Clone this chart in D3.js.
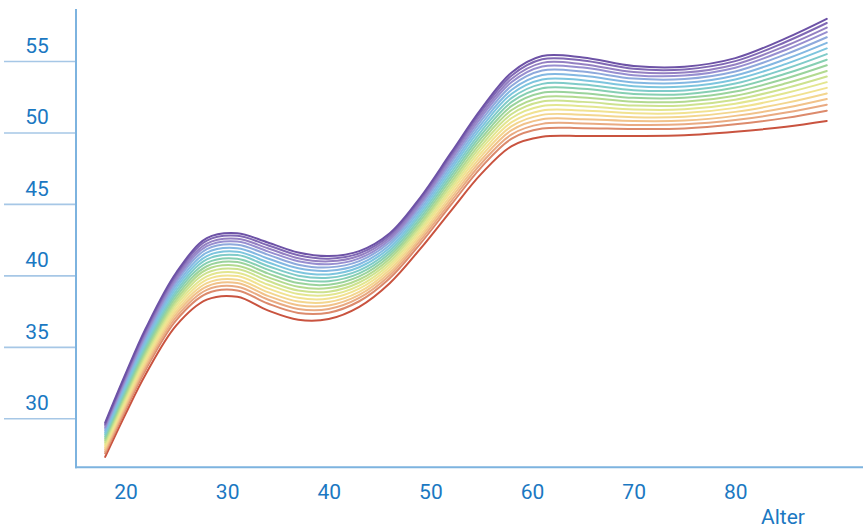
<!DOCTYPE html>
<html>
<head>
<meta charset="utf-8">
<script src="https://cdn.jsdelivr.net/npm/d3@7"></script>
<style>
  html, body { margin: 0; padding: 0; background: #ffffff; }
  svg { display: block; }
  text { font-family: Roboto, "Noto Sans", sans-serif; }
</style>
</head>
<body>
<svg id="chart" width="863" height="530"></svg>
<script>
// Ages at which the curves were read
const ages = [18, 20, 22, 25, 28, 31, 34, 37, 40, 43, 46, 49, 52, 55, 58, 61, 65, 70, 75, 80, 85, 89];

// Values of all 19 curves (bottom red curve first, top purple curve last) at each age
const at18 = [27.30, 27.54, 27.68, 27.82, 27.95, 28.08, 28.21, 28.34, 28.48, 28.61, 28.74, 28.87, 29.00, 29.14, 29.27, 29.39, 29.50, 29.60, 29.70];
const at20 = [30.30, 30.58, 30.75, 30.90, 31.06, 31.21, 31.36, 31.52, 31.67, 31.83, 31.98, 32.13, 32.29, 32.44, 32.60, 32.74, 32.86, 32.99, 33.10];
const at22 = [33.10, 33.42, 33.61, 33.79, 33.96, 34.14, 34.32, 34.49, 34.67, 34.84, 35.02, 35.20, 35.37, 35.55, 35.72, 35.88, 36.03, 36.17, 36.30];
const at25 = [36.50, 36.87, 37.09, 37.30, 37.50, 37.70, 37.91, 38.11, 38.31, 38.52, 38.72, 38.92, 39.13, 39.33, 39.53, 39.72, 39.89, 40.05, 40.20];
const at28 = [38.30, 38.73, 38.99, 39.22, 39.46, 39.70, 39.93, 40.17, 40.41, 40.64, 40.88, 41.12, 41.35, 41.59, 41.83, 42.04, 42.23, 42.43, 42.60];
const at31 = [38.50, 38.95, 39.21, 39.46, 39.70, 39.95, 40.19, 40.44, 40.68, 40.93, 41.17, 41.42, 41.66, 41.90, 42.15, 42.37, 42.57, 42.77, 42.95];
const at34 = [37.55, 38.03, 38.31, 38.57, 38.83, 39.09, 39.36, 39.62, 39.88, 40.14, 40.40, 40.66, 40.92, 41.18, 41.45, 41.68, 41.90, 42.11, 42.30];
const at37 = [36.90, 37.37, 37.65, 37.91, 38.17, 38.43, 38.69, 38.94, 39.20, 39.46, 39.72, 39.98, 40.24, 40.50, 40.75, 40.99, 41.20, 41.41, 41.60];
const at40 = [36.95, 37.39, 37.65, 37.90, 38.14, 38.38, 38.62, 38.86, 39.11, 39.35, 39.59, 39.83, 40.07, 40.32, 40.56, 40.78, 40.98, 41.17, 41.35];
const at43 = [37.80, 38.19, 38.42, 38.64, 38.85, 39.07, 39.28, 39.50, 39.71, 39.93, 40.14, 40.35, 40.57, 40.78, 41.00, 41.19, 41.37, 41.54, 41.70];
const at46 = [39.45, 39.80, 40.01, 40.20, 40.40, 40.59, 40.78, 40.97, 41.17, 41.36, 41.55, 41.74, 41.94, 42.13, 42.32, 42.50, 42.65, 42.81, 42.95];
const at49 = [41.85, 42.21, 42.43, 42.62, 42.82, 43.02, 43.22, 43.42, 43.61, 43.81, 44.01, 44.21, 44.41, 44.60, 44.80, 44.98, 45.14, 45.31, 45.45];
const at52 = [44.50, 44.91, 45.15, 45.37, 45.59, 45.82, 46.04, 46.26, 46.48, 46.71, 46.93, 47.15, 47.38, 47.60, 47.82, 48.02, 48.21, 48.39, 48.55];
const at55 = [47.10, 47.56, 47.83, 48.08, 48.33, 48.58, 48.83, 49.08, 49.33, 49.58, 49.83, 50.08, 50.33, 50.58, 50.83, 51.06, 51.26, 51.47, 51.65];
const at58 = [49.05, 49.57, 49.87, 50.16, 50.44, 50.72, 51.01, 51.29, 51.57, 51.86, 52.14, 52.42, 52.71, 52.99, 53.27, 53.53, 53.76, 53.99, 54.20];
const at61 = [49.70, 50.27, 50.60, 50.92, 51.23, 51.54, 51.85, 52.16, 52.47, 52.78, 53.09, 53.40, 53.71, 54.02, 54.33, 54.62, 54.87, 55.12, 55.35];
const at65 = [49.75, 50.30, 50.63, 50.93, 51.24, 51.54, 51.84, 52.14, 52.45, 52.75, 53.05, 53.35, 53.66, 53.96, 54.26, 54.54, 54.78, 55.03, 55.25];
const at70 = [49.75, 50.24, 50.53, 50.80, 51.07, 51.34, 51.61, 51.88, 52.15, 52.42, 52.69, 52.96, 53.23, 53.50, 53.77, 54.01, 54.23, 54.45, 54.65];
const at75 = [49.80, 50.28, 50.57, 50.83, 51.10, 51.36, 51.62, 51.89, 52.15, 52.42, 52.68, 52.94, 53.21, 53.47, 53.74, 53.98, 54.19, 54.41, 54.60];
const at80 = [50.05, 50.57, 50.87, 51.16, 51.44, 51.72, 52.01, 52.29, 52.57, 52.86, 53.14, 53.42, 53.71, 53.99, 54.27, 54.53, 54.76, 54.99, 55.20];
const at85 = [50.40, 51.02, 51.39, 51.73, 52.07, 52.42, 52.76, 53.10, 53.44, 53.78, 54.12, 54.46, 54.80, 55.14, 55.48, 55.79, 56.07, 56.35, 56.60];
const at89 = [50.80, 51.52, 51.94, 52.34, 52.73, 53.12, 53.52, 53.91, 54.30, 54.70, 55.09, 55.48, 55.88, 56.27, 56.66, 57.02, 57.34, 57.66, 57.95];

const xTicks = [20, 30, 40, 50, 60, 70, 80];
const yTicks = [30, 35, 40, 45, 50, 55];
const xLabel = "Alter";

const lineColors = [
  "#c9533f", "#dc8a6c", "#e9aa82", "#f1c28a", "#f3d68f", "#f1e291",
  "#e3e690", "#cde28f", "#b3da90", "#9ad39c", "#86cfb2", "#7fcbc9",
  "#7dc5de", "#83b8e2", "#8ea9dc", "#978ed0", "#9480c2", "#8068b4", "#6d52a6"
];

// ---- build table from the columns ----
const columns = [at18, at20, at22, at25, at28, at31, at34, at37, at40, at43, at46, at49,
                 at52, at55, at58, at61, at65, at70, at75, at80, at85, at89];
const nCurves = at18.length;
const curves = d3.range(nCurves).map(i => ages.map((a, j) => ({ age: a, v: columns[j][i] })));

const svg = d3.select("#chart");
const x = d3.scaleLinear().domain([20, 80]).range([125.5, 735.3]);
const y = d3.scaleLinear().domain([30, 55]).range([418.3, 61]);

const axisColor = "#7db3df";
const tickColor = "#a6c7e6";
const textColor = "#1b78c2";
const axisX = 76;
const axisY = 467.3;

// y tick lines with labels above them
const yAxis = d3.axisLeft(y).tickValues(yTicks).tickSize(72).tickPadding(0).tickFormat(d3.format("d"));
const gy = svg.append("g").attr("transform", `translate(${axisX},0)`).call(yAxis);
gy.select(".domain").remove();
gy.selectAll(".tick line").attr("stroke", tickColor).attr("stroke-width", 1.6);
gy.selectAll(".tick text")
  .attr("x", -39).attr("dy", "-8.7px").attr("y", 0)
  .attr("text-anchor", "middle")
  .attr("fill", textColor).attr("font-size", 21).attr("font-family", "Roboto, sans-serif");

// x labels
const xAxis = d3.axisBottom(x).tickValues(xTicks).tickSize(0).tickPadding(0).tickFormat(d3.format("d"));
const gx = svg.append("g").attr("transform", `translate(0,${axisY})`).call(xAxis);
gx.select(".domain").remove();
gx.selectAll(".tick text")
  .attr("y", 0).attr("dy", "31.7px")
  .attr("fill", textColor).attr("font-size", 21).attr("font-family", "Roboto, sans-serif");

// axis lines
svg.append("line").attr("x1", axisX).attr("x2", axisX).attr("y1", 9).attr("y2", axisY + 1)
  .attr("stroke", axisColor).attr("stroke-width", 2);
svg.append("line").attr("x1", axisX - 1).attr("x2", 863).attr("y1", axisY).attr("y2", axisY)
  .attr("stroke", axisColor).attr("stroke-width", 2);

svg.append("text").attr("x", 783).attr("y", 524).attr("text-anchor", "middle")
  .attr("fill", textColor).attr("font-size", 21).attr("font-family", "Roboto, sans-serif")
  .text(xLabel);

// curves
const line = d3.line().x(d => x(d.age)).y(d => y(d.v)).curve(d3.curveCatmullRom.alpha(0.5));
svg.append("g").selectAll("path").data(curves).join("path")
  .attr("d", line)
  .attr("fill", "none")
  .attr("stroke", (d, i) => lineColors[i])
  .attr("stroke-width", 2)
  .attr("stroke-linejoin", "round")
  .attr("stroke-linecap", "round");
</script>
</body>
</html>
